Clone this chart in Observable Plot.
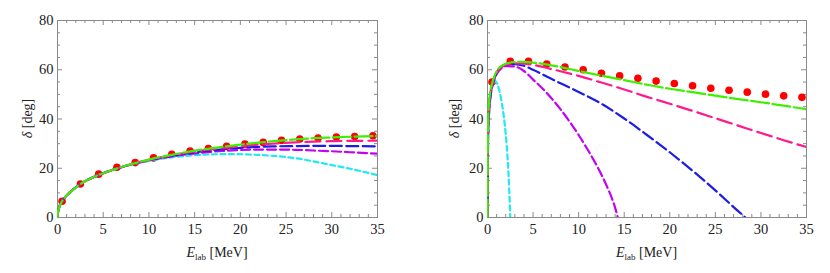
<!DOCTYPE html>
<html><head><meta charset="utf-8">
<script src="https://cdn.jsdelivr.net/npm/d3@7"></script>
<script src="https://cdn.jsdelivr.net/npm/@observablehq/plot@0.6"></script>
<style>
html,body{margin:0;padding:0;background:#fff;}
#wrap{position:relative;width:830px;height:273px;overflow:hidden;}
#wrap svg{position:absolute;top:0;}
#wrap svg text, #wrap svg tspan{font-family:"Liberation Serif","Times New Roman",serif !important;}
</style></head><body><div id="wrap"></div>
<script>
// ---- tick labels ----
const xTickLabels = [0, 5, 10, 15, 20, 25, 30, 35];
const yTickLabels = [0, 20, 40, 60, 80];

// ---- data points (red dots) ----
const dotE = [0.5, 2.5, 4.5, 6.5, 8.5, 10.5, 12.5, 14.5, 16.5, 18.5, 20.5, 22.5, 24.5, 26.5, 28.5, 30.5, 32.5, 34.5];
const leftDots  = [6.6, 13.6, 17.6, 20.4, 22.3, 24.2, 25.7, 27.0, 28.0, 28.9, 29.8, 30.5, 31.3, 31.9, 32.3, 32.7, 32.9, 33.2];
const rightDots = [55.0, 63.4, 63.4, 62.3, 61.1, 60.0, 58.6, 57.5, 56.5, 55.4, 54.4, 53.5, 52.5, 51.7, 50.9, 50.1, 49.4, 48.8];

// ---- left panel curves ----
const leftE      = [0, 0.05, 0.2, 0.5, 1, 2, 3, 4, 5, 6, 8, 10, 12, 14, 16, 18, 20, 22, 24, 26, 28, 30, 32, 35];
const leftCyan   = [0, 2.1, 4.2, 6.6, 8.9, 12.2, 14.7, 16.5, 18.0, 19.3, 21.4, 23.0, 24.2, 25.0, 25.5, 25.7, 25.7, 25.4, 24.9, 24.1, 22.8, 21.3, 19.8, 17.2];
const leftPurple = [0, 2.1, 4.2, 6.6, 8.9, 12.2, 14.7, 16.5, 18.0, 19.3, 21.5, 23.2, 24.5, 25.6, 26.4, 27.0, 27.4, 27.6, 27.6, 27.5, 27.2, 26.9, 26.5, 25.9];
const leftBlue   = [0, 2.1, 4.2, 6.6, 8.9, 12.2, 14.7, 16.5, 18.0, 19.3, 21.5, 23.3, 24.7, 25.9, 26.9, 27.7, 28.3, 28.7, 28.9, 29.0, 29.1, 29.1, 29.0, 28.9];
const leftPink   = [0, 2.1, 4.2, 6.6, 8.9, 12.2, 14.7, 16.5, 18.0, 19.3, 21.6, 23.4, 24.9, 26.2, 27.3, 28.2, 29.0, 29.6, 30.1, 30.5, 30.8, 31.0, 31.1, 31.2];
const leftGreen  = [0, 2.1, 4.2, 6.6, 8.9, 12.2, 14.7, 16.5, 18.0, 19.3, 21.6, 23.5, 25.1, 26.5, 27.7, 28.7, 29.6, 30.4, 31.1, 31.7, 32.2, 32.5, 32.8, 33.1];

// ---- right panel curves ----
const rightCyanE   = [0, 0.02, 0.07, 0.15, 0.3, 0.5, 0.7, 0.9, 1.1, 1.3, 1.5, 1.7, 1.9, 2.1, 2.3, 2.45, 2.5];
const rightCyan    = [0, 15, 30, 40, 48, 53, 55, 55.3, 54, 51.5, 48, 43.5, 37.5, 29.5, 18, 5, 0];
const rightPurpleE = [0, 0.02, 0.07, 0.15, 0.3, 0.55, 0.8, 1.1, 1.5, 2, 3, 4, 5, 6, 7, 8, 9, 10, 11, 12, 13, 14, 14.3];
const rightPurple  = [0, 18, 33, 41, 48, 53.5, 56.5, 58.8, 60.5, 61.5, 61.3, 59.5, 56, 52.5, 48.5, 44, 39, 33.5, 27.5, 21, 13.5, 4, 0];
const rightBlueE   = [0, 0.02, 0.07, 0.15, 0.3, 0.55, 0.8, 1.1, 1.5, 2, 3, 4, 5, 7, 10, 12.5, 15, 17.5, 20, 22.5, 25, 27.5, 28.3];
const rightBlue    = [0, 20, 36, 43, 49, 54, 57, 59.3, 61, 62, 62.3, 61.6, 60.0, 56.3, 51.0, 46.2, 40.2, 33.5, 26.5, 19.0, 11.0, 2.6, 0];
const rightE       = [0, 0.02, 0.07, 0.15, 0.3, 0.55, 0.8, 1.1, 1.5, 2, 3, 4, 5, 7, 10, 12.5, 15, 17.5, 20, 22.5, 25, 27.5, 30, 32.5, 35];
const rightPink    = [0, 22, 37, 44, 50, 54.5, 57.5, 59.5, 61, 62, 62.6, 62.5, 62, 60.3, 57.5, 54.8, 52.0, 49.0, 46.2, 43.3, 40.3, 37.3, 34.3, 31.4, 28.6];
const rightGreen   = [0, 25, 40, 46, 51, 55, 57.8, 60, 61.5, 62.4, 63.1, 63.2, 62.9, 61.8, 59.5, 57.6, 55.8, 53.9, 52.3, 50.9, 49.5, 48.1, 46.8, 45.4, 44.0];

const colors = {cyan: "#22e8f2", purple: "#c400f5", blue: "#1c1ce6", pink: "#ff1a8c", green: "#3ef000", red: "#ff0000"};
const serif = "'Liberation Serif', 'Times New Roman', serif";

function pts(E, d) { return E.map((e, i) => ({E: e, d: d[i]})); }

function panel({left, marginLeft, marginRight, dots, curves, yLabelX}) {
  const W = 415, H = 273, mt = 20, mb = 56;
  const innerW = W - marginLeft - marginRight, innerH = H - mt - mb;
  const xMinor = d3.range(0, 36).filter(v => v % 5 !== 0);
  const yMinor = d3.range(0, 81, 5).filter(v => v % 20 !== 0);
  const tk = "#8a8a8a";
  const big = 5, small = 3;
  const marks = [
    Plot.ruleX(xTickLabels, {stroke: tk, insetTop: innerH - big}),
    Plot.ruleX(xTickLabels, {stroke: tk, insetBottom: innerH - big}),
    Plot.ruleX(xMinor, {stroke: tk, insetTop: innerH - small}),
    Plot.ruleX(xMinor, {stroke: tk, insetBottom: innerH - small}),
    Plot.ruleY(yTickLabels, {stroke: tk, insetRight: innerW - big}),
    Plot.ruleY(yTickLabels, {stroke: tk, insetLeft: innerW - big}),
    Plot.ruleY(yMinor, {stroke: tk, insetRight: innerW - small}),
    Plot.ruleY(yMinor, {stroke: tk, insetLeft: innerW - small}),
    Plot.frame({stroke: tk}),
    Plot.axisX(xTickLabels, {tickSize: 0, tickPadding: 6, label: null, fill: "#222", fontSize: 14.5}),
    Plot.axisY(yTickLabels, {tickSize: 0, tickPadding: 4, label: null, fill: "#222", fontSize: 14.5}),
    Plot.dot(pts(dotE, dots), {x: "E", y: "d", r: 3.8, fill: colors.red, stroke: "none"})
  ];
  for (const c of curves) {
    marks.push(Plot.line(pts(c.E, c.d), {x: "E", y: "d", stroke: c.color, strokeWidth: 2.2,
      strokeDasharray: c.dash, curve: "monotone-x", clip: true}));
  }
  const svg = Plot.plot({
    width: W, height: H, marginLeft, marginRight, marginTop: mt, marginBottom: mb,
    x: {domain: [0, 35]}, y: {domain: [0, 80]},
    style: {fontFamily: serif, fontSize: "14px", background: "transparent", color: "#222"},
    marks
  });
  svg.setAttribute("font-family", serif);
  svg.style.left = left + "px";
  const s = d3.select(svg);
  const xl = s.append("text").attr("x", marginLeft + innerW / 2).attr("y", 257)
    .attr("text-anchor", "middle").attr("font-size", 14).attr("fill", "#222")
    .attr("font-family", serif);
  xl.append("tspan").attr("font-style", "italic").text("E");
  xl.append("tspan").attr("font-size", 9).attr("dy", 3).text("lab");
  xl.append("tspan").attr("dy", -3).text(" [MeV]");
  const yl = s.append("text").attr("transform", `translate(${yLabelX},${mt + innerH / 2}) rotate(-90)`)
    .attr("text-anchor", "middle").attr("font-size", 14).attr("fill", "#222")
    .attr("font-family", serif);
  yl.append("tspan").attr("font-style", "italic").text("δ");
  yl.append("tspan").text(" [deg]");
  return svg;
}

const wrap = document.getElementById("wrap");
wrap.appendChild(panel({
  left: 0, marginLeft: 57, marginRight: 38, dots: leftDots, yLabelX: 32,
  curves: [
    {E: leftE, d: leftCyan, color: colors.cyan, dash: "5,3.5"},
    {E: leftE, d: leftPurple, color: colors.purple, dash: "9,4"},
    {E: leftE, d: leftBlue, color: colors.blue, dash: "12,4.5"},
    {E: leftE, d: leftPink, color: colors.pink, dash: "15,6"},
    {E: leftE, d: leftGreen, color: colors.green, dash: "18,3.5"}
  ]
}));
wrap.appendChild(panel({
  left: 415, marginLeft: 72, marginRight: 24, dots: rightDots, yLabelX: 44,
  curves: [
    {E: rightCyanE, d: rightCyan, color: colors.cyan, dash: "5,3.5"},
    {E: rightPurpleE, d: rightPurple, color: colors.purple, dash: "9,4"},
    {E: rightBlueE, d: rightBlue, color: colors.blue, dash: "12,4.5"},
    {E: rightE, d: rightPink, color: colors.pink, dash: "15,6"},
    {E: rightE, d: rightGreen, color: colors.green, dash: "18,3.5"}
  ]
}));
</script></body></html>
